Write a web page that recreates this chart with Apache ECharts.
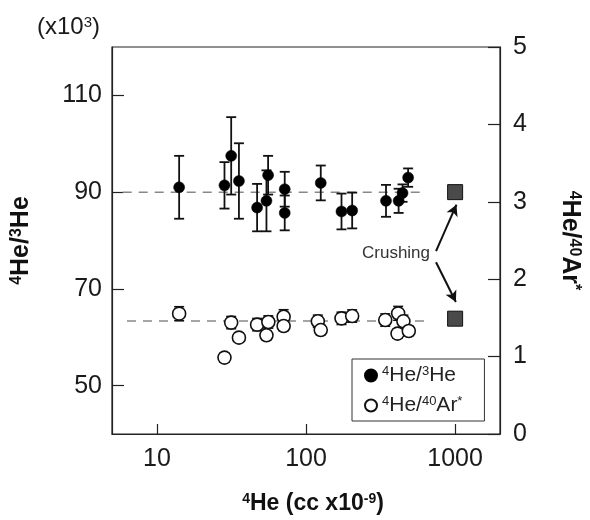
<!DOCTYPE html>
<html>
<head>
<meta charset="utf-8">
<script src="https://cdn.jsdelivr.net/npm/echarts@6/dist/echarts.min.js"></script>
<style>
html,body{margin:0;padding:0;background:#fff;}
#c{width:590px;height:520px;}
</style>
</head>
<body>
<div id="c"></div>
<script>
// 4He/3He (x10^3), left axis
var heX   = [14.1, 28.4, 31.5, 35.5, 47.0, 54.3, 55.7, 72, 72, 125.6, 173, 204, 344, 418, 444, 484];
var heY   = [91.0, 91.4, 97.5, 92.3, 86.8, 88.2, 93.5, 90.6, 85.7, 91.9, 86.0, 86.2, 88.2, 88.2, 89.8, 93.0];
var heErr = [6.5, 4.8, 8.0, 7.8, 4.9, 6.3, 4.0, 3.6, 3.6, 3.6, 3.7, 3.7, 3.3, 2.5, 1.8, 1.9];
// 4He/40Ar*, right axis
var arX   = [14.1, 28.4, 31.5, 35.5, 47.0, 54.3, 55.9, 70.8, 70.8, 120, 125.6, 173, 204, 340, 415, 450, 411, 489];
var arY   = [1.555, 0.987, 1.439, 1.245, 1.413, 1.275, 1.447, 1.516, 1.395, 1.456, 1.343, 1.494, 1.524, 1.472, 1.559, 1.456, 1.297, 1.331];
var arErr = [0.09, 0.06, 0.08, 0.06, 0.08, 0.06, 0.08, 0.09, 0.06, 0.08, 0.06, 0.08, 0.08, 0.08, 0.09, 0.08, 0.06, 0.06];
// crushing
var crushX  = [1000];
var crushHe = [90];
var crushAr = [1.49];
// reference lines
var heRefX = [5.9, 640];  var heRefVal = 90;
var arRefX = [6.3, 658];  var arRefVal = 1.46;
// annotation arrows (data coords)
var arrowUp   = [[745, 77.8], [1021, 87.4]];
var arrowDown = [[745, 75.5], [1012, 67.3]];
// ticks
var xTicks = [10, 100, 1000];
var leftTicks = [50, 70, 90, 110];

var FONT = '"Liberation Sans", Arial, sans-serif';
var chart = echarts.init(document.getElementById('c'));

function errRender(capW, lw) {
  return function (params, api) {
    var x = api.value(0), lo = api.value(1), hi = api.value(2);
    var p1 = api.coord([x, hi]), p2 = api.coord([x, lo]);
    var st = {stroke: '#111', lineWidth: lw};
    return {type: 'group', children: [
      {type: 'line', shape: {x1: p1[0], y1: p1[1], x2: p2[0], y2: p2[1]}, style: st},
      {type: 'line', shape: {x1: p1[0] - capW, y1: p1[1], x2: p1[0] + capW, y2: p1[1]}, style: st},
      {type: 'line', shape: {x1: p2[0] - capW, y1: p2[1], x2: p2[0] + capW, y2: p2[1]}, style: st}
    ]};
  };
}

var heData = heX.map(function (x, i) { return [x, heY[i]]; });
var heErrData = heX.map(function (x, i) { return [x, heY[i] - heErr[i], heY[i] + heErr[i]]; });
var arData = arX.map(function (x, i) { return [x, arY[i]]; });
var arErrData = arX.map(function (x, i) { return [x, arY[i] - arErr[i], arY[i] + arErr[i]]; });

var supBold = {fontSize: 16, fontWeight: 'bold', fontFamily: FONT, color: '#111', verticalAlign: 'top', padding: [0, 0, 8, 0]};
var mainBold = {fontSize: 25, fontWeight: 'bold', fontFamily: FONT, color: '#111'};

chart.setOption({
  animation: false,
  backgroundColor: '#fff',
  grid: {left: 112, right: 84, top: 47, bottom: 85, show: true, borderColor: '#222', borderWidth: 1.2, backgroundColor: 'transparent'},
  xAxis: {
    type: 'log', logBase: 10, min: 5, max: 2000,
    axisLine: {show: true, lineStyle: {color: '#222', width: 1.2}},
    axisTick: {show: true, inside: true, length: 10, customValues: xTicks, lineStyle: {color: '#222', width: 1.2}},
    axisLabel: {customValues: xTicks, fontSize: 25, color: '#1a1a1a', fontFamily: FONT, margin: 13,
      formatter: function (v) { return String(Math.round(v)); }},
    splitLine: {show: false}, minorTick: {show: false},
    name: '{s|4}{m|He (cc x10}{s|-9}{m|)}',
    nameLocation: 'middle', nameGap: 58,
    nameTextStyle: {padding: [0, 0, 0, 14], rich: {s: {fontSize: 14, fontWeight: 'bold', fontFamily: FONT, color: '#111', verticalAlign: 'top', padding: [0, 0, 8, 0]}, m: {fontSize: 23, fontWeight: 'bold', fontFamily: FONT, color: '#111'}}}
  },
  yAxis: [{
    type: 'value', min: 40, max: 120, position: 'left',
    axisLine: {show: true, lineStyle: {color: '#222', width: 1.2}},
    axisTick: {show: true, inside: true, length: 12, customValues: leftTicks, lineStyle: {color: '#222', width: 1.2}},
    axisLabel: {customValues: leftTicks, fontSize: 25, color: '#1a1a1a', fontFamily: FONT, margin: 10},
    splitLine: {show: false},
    name: '{s|4}{m|He/}{s|3}{m|He}', nameLocation: 'middle', nameRotate: 90, nameGap: 78,
    nameTextStyle: {rich: {s: supBold, m: mainBold}}
  }, {
    type: 'value', min: 0, max: 5, interval: 1, position: 'right',
    axisLine: {show: true, lineStyle: {color: '#222', width: 1.2}},
    axisTick: {show: true, inside: true, length: 12, lineStyle: {color: '#222', width: 1.2}},
    axisLabel: {fontSize: 25, color: '#1a1a1a', fontFamily: FONT, margin: 13},
    splitLine: {show: false},
    name: '{s|4}{m|He/}{s|40}{m|Ar}{s|*}', nameLocation: 'middle', nameRotate: -90, nameGap: 57,
    nameTextStyle: {rich: {s: supBold, m: mainBold}}
  }],
  legend: {
    show: true, orient: 'vertical', left: 352, top: 359,
    padding: [6, 22, 5, 12], itemGap: 9,
    borderColor: '#333', borderWidth: 1, backgroundColor: '#fff',
    itemWidth: 12, itemHeight: 12,
    data: [{name: 'He3', icon: 'circle'}, {name: 'Ar40', icon: 'circle'}],
    formatter: function (n) {
      return n === 'He3' ? '{s|4}{t|He/}{s|3}{t|He}' : '{s|4}{t|He/}{s|40}{t|Ar}{s|*}';
    },
    textStyle: {rich: {
      t: {fontSize: 21, fontFamily: FONT, color: '#222'},
      s: {fontSize: 13, fontFamily: FONT, color: '#222', verticalAlign: 'top', padding: [0, 0, 8, 0]}
    }}
  },
  graphic: [
    {type: 'text', left: 37, top: 15, style: {
      text: '{m|(x10}{s|3}{m|)}',
      rich: {m: {fontSize: 24, fontFamily: FONT, fill: '#1a1a1a'}, s: {fontSize: 15, fontFamily: FONT, fill: '#1a1a1a', verticalAlign: 'top', padding: [0, 0, 9, 0]}}
    }},
    {type: 'text', left: 362, top: 245, style: {text: 'Crushing', fontSize: 17, fontFamily: FONT, fill: '#333'}}
  ],
  series: [
    {name: 'heRef', type: 'line', yAxisIndex: 0, symbol: 'none', silent: true,
      data: heRefX.map(function (x) { return [x, heRefVal]; }),
      lineStyle: {color: '#888', width: 1.5, type: [9, 7]}, z: 1},
    {name: 'arRef', type: 'line', yAxisIndex: 1, symbol: 'none', silent: true,
      data: arRefX.map(function (x) { return [x, arRefVal]; }),
      lineStyle: {color: '#888', width: 1.5, type: [9, 7]}, z: 1},
    {name: 'heErr', type: 'custom', coordinateSystem: 'cartesian2d', yAxisIndex: 0,
      renderItem: errRender(5, 1.8), encode: {x: 0, y: [1, 2]}, data: heErrData, z: 2},
    {name: 'He3', type: 'scatter', yAxisIndex: 0, symbol: 'circle', symbolSize: 11,
      itemStyle: {color: '#000', borderColor: '#000', borderWidth: 0.5, opacity: 1}, data: heData, z: 4},
    {name: 'arErr', type: 'custom', coordinateSystem: 'cartesian2d', yAxisIndex: 1,
      renderItem: errRender(5, 1.5), encode: {x: 0, y: [1, 2]}, data: arErrData, z: 2},
    {name: 'Ar40', type: 'scatter', yAxisIndex: 1, symbol: 'circle', symbolSize: 13,
      itemStyle: {color: '#fff', borderColor: '#111', borderWidth: 1.6, opacity: 1}, data: arData, z: 5},
    {name: 'crushHe', type: 'scatter', yAxisIndex: 0, symbol: 'rect', symbolSize: 15,
      itemStyle: {color: '#4a4a4a', borderColor: '#111', borderWidth: 1, opacity: 1},
      data: crushX.map(function (x, i) { return [x, crushHe[i]]; }), z: 4,
      markLine: {
        silent: true, symbol: ['none', 'arrow'], symbolSize: [9, 11],
        label: {show: false},
        lineStyle: {color: '#111', width: 2, type: 'solid'},
        data: [
          [{coord: arrowUp[0]}, {coord: arrowUp[1]}],
          [{coord: arrowDown[0]}, {coord: arrowDown[1]}]
        ]
      }},
    {name: 'crushAr', type: 'scatter', yAxisIndex: 1, symbol: 'rect', symbolSize: 15,
      itemStyle: {color: '#4a4a4a', borderColor: '#111', borderWidth: 1, opacity: 1},
      data: crushX.map(function (x, i) { return [x, crushAr[i]]; }), z: 4}
  ]
});
</script>
</body>
</html>
